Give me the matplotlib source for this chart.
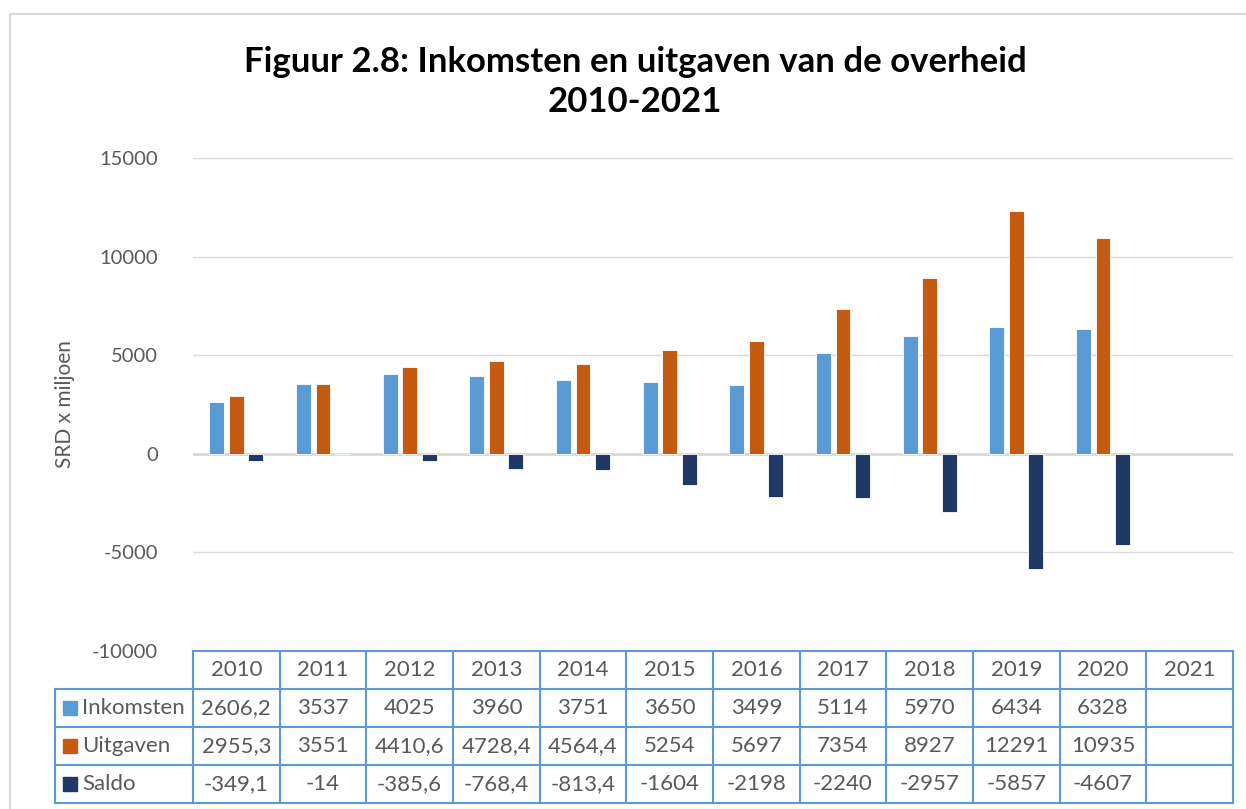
import matplotlib.pyplot as plt
import matplotlib.transforms as mtransforms
from matplotlib.patches import Rectangle
import numpy as np

plt.rcParams['font.family'] = ['Lato', 'DejaVu Sans']
plt.rcParams['axes.unicode_minus'] = False

years = ["2010", "2011", "2012", "2013", "2014", "2015", "2016", "2017",
         "2018", "2019", "2020", "2021"]
inkomsten = [2606.2, 3537, 4025, 3960, 3751, 3650, 3499, 5114, 5970, 6434, 6328, np.nan]
uitgaven = [2955.3, 3551, 4410.6, 4728.4, 4564.4, 5254, 5697, 7354, 8927, 12291, 10935, np.nan]
saldo = [-349.1, -14, -385.6, -768.4, -813.4, -1604, -2198, -2240, -2957, -5857, -4607, np.nan]

series = [("Inkomsten", inkomsten, "#5B9BD5"),
          ("Uitgaven", uitgaven, "#C55A11"),
          ("Saldo", saldo, "#203864")]

W, H = 1246, 809
fig = plt.figure(figsize=(W / 100, H / 100), dpi=100)
ax_l, ax_r, ax_t, ax_b = 193, 1233, 158, 651
ax = fig.add_axes([ax_l / W, 1 - ax_b / H, (ax_r - ax_l) / W, (ax_b - ax_t) / H])

# chart border
fig.patches.append(Rectangle((10 / W, -0.1), 1.2, 1 - 14 / H + 0.1,
                             transform=fig.transFigure, fill=False,
                             edgecolor="#D9D9D9", linewidth=1.5))

x = np.arange(len(years))
bw = 0.173
step = 0.224
for i, (name, vals, col) in enumerate(series):
    ax.bar(x + (i - 1) * step, vals, width=bw, color=col,
           edgecolor="white", linewidth=0.6, zorder=3)

ax.set_xlim(-0.5, len(years) - 0.5)
ax.set_ylim(-10000, 15000)
ax.set_yticks(range(-10000, 15001, 5000))
ax.tick_params(axis="y", length=0, pad=25, labelsize=14.5, labelcolor="#595959")
ax.set_xticks([])
ax.grid(axis="y", color="#D9D9D9", linewidth=1, zorder=0)
ax.axhline(0, color="#D9D9D9", linewidth=2, zorder=2)
for s in ax.spines.values():
    s.set_visible(False)
ax.set_ylabel("SRD x miljoen", fontsize=15, color="#595959", labelpad=12)

fig.text(635 / W, 1 - 82 / H, "Figuur 2.8: Inkomsten en uitgaven van de overheid\n2010-2021",
         ha="center", va="center", fontsize=25, fontweight="bold",
         linespacing=1.32)

# data table below the axes
trans = mtransforms.blended_transform_factory(ax.transData, ax.transAxes)
ph = ax_b - ax_t
cw = (ax_r - ax_l) / len(years)
row_h = 38 / ph
lab_x0 = -0.5 - (ax_l - 55) / cw
lc = "#5B9BD5"
kw = dict(transform=trans, clip_on=False, color=lc, linewidth=1.5)
fs = 16

# header row
ax.plot([-0.5, len(years) - 0.5], [0, 0], **kw)
for k in range(len(years) + 1):
    ax.plot([k - 0.5, k - 0.5], [0, -4 * row_h], **kw)
for r in range(1, 5):
    ax.plot([lab_x0, len(years) - 0.5], [-r * row_h, -r * row_h], **kw)
ax.plot([lab_x0, lab_x0], [-row_h, -4 * row_h], **kw)
for k, yr in enumerate(years):
    ax.text(k, -0.5 * row_h, yr, transform=trans, ha="center", va="center",
            fontsize=fs, color="#595959")

sq_w = 14 / cw
sq_h = 14 / ph
for r, (name, vals, col) in enumerate(series):
    yc = -(r + 1.5) * row_h
    ax.add_patch(Rectangle((lab_x0 + 8 / cw, yc - sq_h / 2), sq_w, sq_h,
                           transform=trans, clip_on=False, color=col))
    ax.text(lab_x0 + 27 / cw, yc, name, transform=trans, ha="left", va="center",
            fontsize=fs, color="#595959")
    for k, v in enumerate(vals):
        if np.isnan(v):
            continue
        ax.text(k, yc, f"{v:g}".replace(".", ","), transform=trans,
                ha="center", va="center", fontsize=fs, color="#595959")

fig.savefig("out.png", dpi=100)
